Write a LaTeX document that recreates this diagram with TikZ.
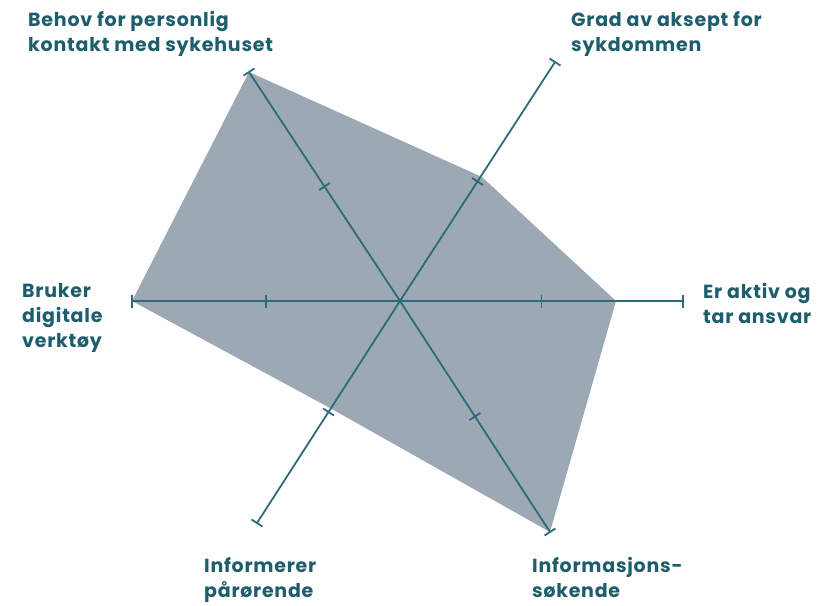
\documentclass[tikz,border=0pt]{standalone}
\usepackage{fontspec}
\setmainfont{Poppins}
\newfontfamily\labfont{Poppins}[LetterSpace=4]
\usetikzlibrary{calc}
\definecolor{axiscol}{HTML}{2C6C78}
\definecolor{textcol}{HTML}{1E5D6C}
\definecolor{fillcol}{HTML}{9DA8B5}
\tikzset{
  axisline/.style={draw=axiscol, line width=1.8pt},
  tickline/.style={draw=axiscol, line width=1.8pt},
  lab/.style={text=textcol, font=\labfont\bfseries\fontsize{19}{25}\selectfont, align=left, inner sep=0pt}
}
\begin{document}
\begin{tikzpicture}[x=1pt,y=-1pt]
\useasboundingbox (0,0) rectangle (835,605);
\coordinate (O) at (400,301);
\coordinate (eUL) at (249,72);
\coordinate (eUR) at (555,62);
\coordinate (eR) at (683,301);
\coordinate (eLR) at (550,532);
\coordinate (eLL) at (257,523);
\coordinate (eL) at (132,301);
\coordinate (pUR) at (482,177);
\coordinate (pR) at (616,301);
\coordinate (pLL) at (330,408);
\fill[fillcol] (eUL) -- (pUR) -- (pR) -- (eLR) -- (pLL) -- (eL) -- cycle;
\foreach \e in {eUL,eUR,eR,eLR,eLL,eL}{
  \draw[axisline] (O) -- (\e);
  \coordinate (m\e) at ($(O)!0.5!(\e)$);
  \draw[tickline] ($(m\e)!6.5pt!90:(\e)$) -- ($(m\e)!6.5pt!-90:(\e)$);
  \draw[tickline] ($(\e)!6.5pt!90:(O)$) -- ($(\e)!6.5pt!-90:(O)$);
}
\node[lab, anchor=base west] (tUL) at (28,51) {Behov for personlig\\kontakt med sykehuset};
\node[lab, anchor=base west] (tUR) at (571,51) {Grad av aksept for\\sykdommen};
\node[lab, anchor=base west] (tR) at (703,323) {Er aktiv og\\tar ansvar};
\node[lab, anchor=base west] (tL) at (22,347) {Bruker\\digitale\\verktøy};
\node[lab, anchor=base west] (tLL) at (204,597) {Informerer\\pårørende};
\node[lab, anchor=base west] (tLR) at (532,597) {Informasjons-\\søkende};
\end{tikzpicture}
\end{document}
